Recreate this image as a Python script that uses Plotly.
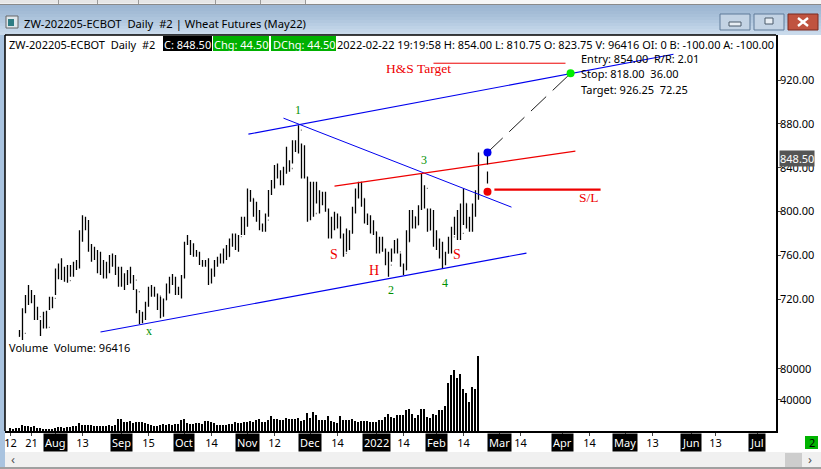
import plotly.graph_objects as go

W, H = 821, 469

# daily bars, index 0 is the first bar on the chart (first three sit below the visible price pane)
opens = [665, 668, 672, 686, 690, 688.7, 717.6, 716.7, 719.1, 710, 703.9, 697.8, 694.2, 694.2, 719.1, 720.6, 743.5, 742.9, 742, 737.4,
         736.8, 742, 751.1, 752, 781.5, 784.6, 787.6, 766.3, 764.8, 761.7, 746.5, 748, 752.6, 745, 755.6, 752.6, 743.5, 742, 734.3, 735,
         736.8, 737.4, 737.4, 726.7, 706.3, 703.9, 716.1, 728.2, 728.2, 724.6, 722.8, 705.4, 719.1, 732.8, 738, 738, 726.7, 728.2, 740.4, 770.9,
         772.4, 761.7, 761.1, 760.2, 752.6, 751.1, 752, 737.4, 742, 752.6, 753.2, 754.1, 764.8, 758.7, 772.4, 775.4, 769.3, 777, 789.1, 789.1,
         811.9, 811.9, 796.7, 793.7, 786.1, 786.1, 792.2, 818.1, 827.2, 833.2, 833.2, 827.2, 834.8, 837.8, 839.3, 862.2, 860.6, 874.3, 846.9, 831.7,
         795.2, 796.7, 798.2, 810.4, 811.9, 813.5, 801.3, 786.1, 792.1, 793.7, 795.2, 778.5, 761.7, 775.4, 780, 801.3, 819.5, 819.5, 811.9, 790.6,
         793.7, 787.6, 781.5, 763.2, 775.4, 764.8, 761.7, 751, 763.2, 764.8, 763.2, 751, 746.5, 772.4, 798.2, 795.2, 787.6, 804.3, 822.6, 821.1,
         783, 793.7, 769.3, 767.8, 761.7, 758.7, 761.7, 772.4, 776.9, 787.6, 786.1, 780, 807.4, 786.1, 786.1, 804.3, 823.75]
highs = [670, 673, 678, 691.7, 711.5, 723.7, 732.8, 728.2, 723.7, 713, 700.9, 708.5, 709.4, 722.2, 722.2, 748, 752.6, 757.2, 749.6, 751.1,
         751.1, 754.1, 755.6, 783, 796.7, 795.2, 792.2, 770.3, 767.8, 764.8, 763.3, 755.6, 754.1, 760.2, 761.7, 760.2, 749.6, 749.6, 743.5, 746.5,
         749.6, 742, 728.9, 710, 708.5, 717.6, 731.3, 732.8, 731.3, 725.2, 722.2, 720.6, 734.3, 740.4, 742.9, 740.4, 731.3, 742, 772.4, 778.5,
         773.9, 770.9, 764.8, 763.3, 755.6, 755.6, 757.2, 748, 755.6, 758.7, 761.7, 766.3, 769.3, 775.4, 780, 780, 778.5, 795.2, 795.2, 821.1,
         819.6, 811.9, 808.9, 801.3, 789.1, 798.3, 819.6, 828.7, 842.4, 843.9, 837.8, 840.8, 859.1, 846.9, 865.2, 865.2, 878.9, 862.2, 860.6, 831.7,
         827.2, 827.2, 827.2, 819.5, 818, 818, 802.8, 795.2, 799.8, 798.2, 795.2, 780, 784.5, 783, 804.3, 821.1, 827.2, 827.2, 811.9, 798.2,
         796.7, 792.1, 781.5, 776.9, 776.9, 766.3, 763.2, 766.3, 773.9, 775.4, 761.7, 752.6, 783, 801.3, 801.3, 795.2, 805.8, 834.8, 824.1, 802.8,
         802.8, 801.3, 783, 775.4, 772.4, 763.2, 776.9, 786.1, 795.2, 801.3, 807.4, 821.1, 807.4, 795.2, 807.4, 819.5, 854]
lows = [660, 664, 668, 685.6, 682.6, 707, 714.6, 716.1, 700.9, 700.9, 686.2, 693.2, 693.2, 710, 711.5, 723.7, 738, 737.4, 735.9, 735,
        740.4, 740.4, 746.5, 748, 772.4, 783, 763.3, 754.1, 755.6, 743.5, 742, 738.9, 738.9, 743.5, 749.6, 742, 731.3, 731.3, 728.2, 732.8,
        734.3, 728.2, 707, 697.2, 697.8, 700.9, 713, 722.2, 722.2, 710, 702.4, 703.9, 719.1, 725.2, 732.8, 723.7, 723.7, 720.6, 738.9, 769.3,
        760.2, 758.7, 758.7, 751.1, 749.6, 749.6, 732.8, 734.3, 740.4, 749.6, 752.6, 752.6, 755.6, 758.7, 767.8, 764.8, 763.3, 778.5, 778.5, 786.1,
        808.9, 795.2, 790.7, 783, 781.5, 781.5, 795.2, 815, 821.1, 830.2, 824.1, 824.1, 834.8, 836.3, 843.9, 854.5, 853, 830.2, 830.2, 790.6,
        792.1, 795.2, 807.4, 798.2, 805.8, 799.8, 775.4, 775.4, 783, 784.5, 775.4, 758.7, 763.2, 764.8, 780, 798.2, 811.9, 804.3, 789.1, 787.6,
        780, 778.5, 761.7, 761.7, 763.2, 751, 740.4, 754.1, 761.7, 761.7, 749.5, 741.9, 746.5, 772.4, 784.5, 784.5, 787.6, 801.3, 802.8, 781.5,
        783, 767.8, 764.8, 757.1, 748, 751, 761.7, 761.7, 778.5, 773.9, 773.9, 787.6, 784.5, 781.5, 781.5, 795.2, 810.75]
closes = [668, 672, 676, 690.2, 688.7, 717.6, 716.7, 719.1, 710, 703.9, 697.8, 694.2, 694.2, 719.1, 720.6, 743.5, 742.9, 742, 737.4, 736.8,
          742, 751.1, 752, 781.5, 784.6, 787.6, 766.3, 764.8, 761.7, 746.5, 748, 752.6, 745, 755.6, 752.6, 743.5, 742, 734.3, 735, 736.8,
          737.4, 737.4, 726.7, 706.3, 703.9, 716.1, 728.2, 728.2, 724.6, 722.8, 705.4, 719.1, 732.8, 738, 738, 726.7, 728.2, 740.4, 770.9, 772.4,
          761.7, 761.1, 760.2, 752.6, 751.1, 752, 737.4, 742, 752.6, 753.2, 754.1, 764.8, 758.7, 772.4, 775.4, 769.3, 777, 789.1, 789.1, 811.9,
          811.9, 796.7, 793.7, 786.1, 786.1, 792.2, 818.1, 827.2, 833.2, 833.2, 827.2, 834.8, 837.8, 839.3, 862.2, 860.6, 874.3, 846.9, 831.7, 795.2,
          796.7, 798.2, 810.4, 811.9, 813.5, 801.3, 786.1, 792.1, 793.7, 795.2, 778.5, 761.7, 775.4, 780, 801.3, 819.5, 819.5, 811.9, 790.6, 793.7,
          787.6, 781.5, 763.2, 775.4, 764.8, 761.7, 751, 763.2, 764.8, 763.2, 751, 746.5, 772.4, 798.2, 795.2, 787.6, 804.3, 822.6, 821.1, 783,
          793.7, 769.3, 767.8, 761.7, 758.7, 761.7, 772.4, 776.9, 787.6, 786.1, 780, 807.4, 786.1, 786.1, 804.3, 804.3, 848.5]
volumes = [4250, 3000, 4250, 4250, 8100, 5950, 5950, 5100, 5950, 4250, 3400, 3000, 3000, 3000, 3000, 4250, 5500, 5500, 4250, 5500,
           5500, 6800, 6800, 10600, 7650, 7200, 7200, 7200, 5950, 6800, 6400, 5950, 5950, 7200, 5950, 7200, 15700, 14900, 11050, 11050,
           12300, 10200, 11500, 11900, 11900, 10200, 8500, 7650, 6400, 5950, 7200, 9350, 7650, 8500, 7650, 9350, 9350, 13600, 15700, 10600,
           8500, 8900, 10600, 10600, 8500, 13200, 12300, 11050, 10200, 7650, 7650, 8100, 7650, 9350, 9350, 11900, 10200, 10200, 11050, 11900,
           12750, 11500, 13600, 15700, 11500, 11500, 14450, 19550, 14900, 15700, 14000, 14450, 17400, 14900, 14900, 14900, 17000, 12750, 14450, 23800,
           17000, 24650, 20800, 13600, 13600, 14450, 19550, 12300, 11900, 9800, 19550, 14450, 14000, 14000, 15300, 12300, 11050, 13200, 13200, 13200,
           11050, 11050, 11050, 14450, 13600, 18700, 22500, 18700, 16150, 21250, 20400, 21250, 27600, 28500, 22500, 17000, 21250, 28900, 28900, 18300,
           17400, 22100, 21250, 27600, 27600, 32700, 62050, 72250, 78600, 68400, 73500, 54000, 49300, 37800, 56950, 54400, 96416]
bar_index = list(range(len(closes)))

# x axis labels, by bar position
plain_ticks = [0, 7, 24, 46, 67, 88, 109, 131, 151, 170, 193, 214, 235]
plain_labels = ["12", "21", "13", "15", "14", "12", "14", "14", "14", "14", "14", "13", "13"]
month_ticks = [15, 37, 58, 79, 100, 122, 142, 163, 184, 205, 227, 249]
month_labels = ["Aug", "Sep", "Oct", "Nov", "Dec", "2022", "Feb", "Mar", "Apr", "May", "Jun", "Jul"]

price_ticks = [720, 760, 800, 840, 880, 920]
volume_ticks = [40000, 80000]

# drawn lines: (bar position, price)
channel_top_x, channel_top_y = [79.3, 221], [870.7, 943.7]
channel_low_x, channel_low_y = [30, 172], [689.9, 762]
falling_x, falling_y = [91, 167], [885.3, 804]
neck_x, neck_y = [108, 188.3], [823.2, 855.2]
target_x, target_y = [141, 185], [935.5, 935.5]
stop_x, stop_y = [161.3, 196.7], [820, 820]
entry_x, entry_price = 159, 854
stop_price = 818
target_dot_x, target_price = 186.7, 926.25


def px(x):
    return x / W


def py(y):
    return 1 - y / H


def rect(x0, y0, x1, y1, color, line=None):
    return dict(type="rect", xref="paper", yref="paper", layer="below",
                x0=px(x0), x1=px(x1), y0=py(y0), y1=py(y1), fillcolor=color,
                line=dict(color=line or color, width=1 if line else 0))


def seg(x0, y0, x1, y1, color, width=1.0):
    return dict(type="line", xref="paper", yref="paper", x0=px(x0), x1=px(x1), y0=py(y0), y1=py(y1),
                line=dict(color=color, width=width))


fig = go.Figure()

fig.add_trace(go.Ohlc(x=bar_index, open=opens, high=highs, low=lows, close=closes,
                      increasing_line_color="black", decreasing_line_color="black",
                      line_width=1.3, tickwidth=0.2, yaxis="y", hoverinfo="skip"))
fig.add_trace(go.Bar(x=bar_index, y=volumes, marker_color="black", marker_line_width=0,
                     width=0.6, yaxis="y2", hoverinfo="skip"))


def add_line(x, y, color, width=1.1, dash="solid"):
    fig.add_trace(go.Scatter(x=x, y=y, mode="lines", line=dict(color=color, width=width, dash=dash),
                             yaxis="y", hoverinfo="skip"))


add_line(channel_top_x, channel_top_y, "#0000ee")
add_line(channel_low_x, channel_low_y, "#0000ee")
add_line(falling_x, falling_y, "#0000ee", 1)
add_line(neck_x, neck_y, "#ee0000")
add_line(target_x, target_y, "#ee0000", 1)
add_line(stop_x, stop_y, "#ee0000", 2.4)
add_line([entry_x, target_dot_x], [entry_price, target_price], "black", 0.9, "21px,9px")
add_line([entry_x, entry_x], [entry_price, stop_price], "black", 1.2, "12px,7px")

fig.add_trace(go.Scatter(x=[entry_x, entry_x, target_dot_x], y=[entry_price, stop_price, target_price],
                         mode="markers", marker=dict(size=8, color=["#0000ee", "#ee0000", "#00ee00"]),
                         yaxis="y", hoverinfo="skip"))

shapes = [
    rect(0, 0, W, H, "#f0f0f0"),
    rect(0, 0, 305, 3, "#e6e6e6"),
    rect(305, 0, W, 4, "#f6f6f6"),
    rect(0, 4, W, 5, "#8a8a8a"),
]
for x in [58, 97, 138, 215, 260, 305]:
    shapes.append(rect(x, 0, x + 1, 4, "#9a9a9a"))
# caption gradient, top to bottom
caption_colors = ["#9db6d2", "#a0b9d4", "#a4bcd6", "#a8c0d9", "#adc4dc", "#b2c8df", "#b8cde3", "#bed2e6", "#c4d6e9", "#c9daeb"]
for n, c in enumerate(caption_colors):
    shapes.append(rect(0, 5 + n * 3, W, 8 + n * 3, c))
shapes += [
    rect(0, 35, 5, 467, "#a9c3df"),
    rect(5, 35, 776, 431, "white"),
    rect(776, 35, 821, 452, "white"),
    rect(5, 431, 776, 452, "white"),
    rect(805, 436, 818, 449, "#00b400"),
    rect(785, 453, 802, 467, "#cdcdcd"),
    rect(0, 467, W, H, "#a0a0a0"),
    # window icon and caption buttons
    rect(6, 16, 18, 28, "#dfe7ec", "#666666"),
    rect(8, 19, 14, 26, "#2f7d84"),
    rect(720, 14, 750, 30, "#c3d3e4", "#5f7b99"),
    rect(754, 14, 784, 30, "#c3d3e4", "#5f7b99"),
    rect(788, 14, 818, 30, "#c0533f", "#7a2a20"),
    rect(729, 22, 741, 26, "#e8eef4", "#4a5a6a"),
    rect(765, 18, 773, 24, "#e8eef4", "#4a5a6a"),
    # header strip
    rect(163, 36, 212, 51, "black"),
    rect(213, 36, 269, 51, "#00b000"),
    rect(271, 36, 336, 51, "#00b000"),
    # pane borders, X of the close button
    seg(5, 35, 776, 35, "black", 1.5),
    seg(5, 35, 5, 431, "black", 1.5),
    seg(798, 18, 808, 26, "white", 2.4),
    seg(798, 26, 808, 18, "white", 2.4),
]

UI = "Noto Sans"
SERIF = "Liberation Serif"
ann = []


def label(x, y, text, color="black", size=11, font=UI, bg=None, anchor="left"):
    # x, y in window pixels
    ann.append(dict(x=px(x), y=py(y), xref="paper", yref="paper", text=text, showarrow=False, xanchor=anchor,
                    yanchor="middle", align=anchor, borderpad=0,
                    font=dict(family=font, size=size, color=color), bgcolor=bg))


def mark(x, y, text, color, size=12):
    # text tied to a chart position
    ann.append(dict(x=x, y=y, xref="x", yref="y", text=text, showarrow=False,
                    font=dict(family=SERIF, size=size, color=color)))


label(23, 23, "ZW-202205-ECBOT  Daily  #2 | Wheat Futures (May22)", size=11.2)
label(8, 44, "ZW-202205-ECBOT  Daily  #2")
label(187.5, 44, "C: 848.50", "white", anchor="center")
label(241, 44, "Chg: 44.50", "white", anchor="center")
label(303.5, 44, "DChg: 44.50", "white", anchor="center")
label(336, 44, "2022-02-22 19:19:58 H: 854.00 L: 810.75 O: 823.75 V: 96416 OI: 0 B: -100.00 A: -100.00")
label(8, 347, "Volume  Volume: 96416")
label(580, 59, "Entry: 854.00  R/R: 2.01")
label(580, 74, "Stop: 818.00  36.00")
label(580, 89, "Target: 926.25  72.25")
label(812, 442, "2", anchor="center")
label(13, 459, "‹", "#555555", 13, anchor="center")
label(810, 459, "›", "#555555", 13, anchor="center")
label(797, 158, "848.50", "white", bg="#555555", anchor="center")

mark(136, 931, "H&S Target", "#ee0000", 13.5)
mark(192.7, 813, "S/L", "#ee0000", 13.5)
mark(107.7, 761, "S", "#ee0000", 14)
mark(121.3, 746.5, "H", "#ee0000", 14)
mark(148.7, 760.5, "S", "#ee0000", 14)
mark(95.7, 893, "1", "#009000")
mark(137.7, 847, "3", "#009000")
mark(126.7, 728, "2", "#009000")
mark(144.7, 735, "4", "#009000")
mark(46.3, 691, "x", "#009000")

for t, m in zip(month_ticks, month_labels):
    ann.append(dict(x=t, y=py(442), xref="x", yref="paper", text=m, showarrow=False, yanchor="middle", borderpad=1,
                    font=dict(family=UI, size=11, color="white"), bgcolor="black"))

all_ticks = plain_ticks + month_ticks
all_text = plain_labels + [""] * len(month_ticks)

fig.update_layout(
    width=W, height=H, margin=dict(l=0, r=0, t=0, b=0), paper_bgcolor="white", plot_bgcolor="rgba(0,0,0,0)",
    showlegend=False, bargap=0, shapes=shapes, annotations=ann,
    font=dict(family=UI, size=11, color="black"),
    xaxis=dict(domain=[px(5), px(776)], range=[-1.83, 255.17], anchor="y2", tickmode="array",
               tickvals=all_ticks, ticktext=all_text, ticks="outside", ticklen=3, tickwidth=1, tickangle=0,
               ticklabelstandoff=-2, showgrid=False, zeroline=False, showline=True, linecolor="black", linewidth=1.5,
               rangeslider=dict(visible=False)),
    yaxis=dict(domain=[py(340), py(35)], range=[682.6, 961.3], side="right", anchor="x", tickmode="array",
               tickvals=price_ticks, ticktext=["%.2f" % v for v in price_ticks], ticks="outside", ticklen=3,
               ticklabelstandoff=-3, showgrid=False, zeroline=False, showline=True, linecolor="black", linewidth=1.5),
    yaxis2=dict(domain=[py(431), py(340)], range=[0, 117400], side="right", anchor="x", tickmode="array",
                tickvals=volume_ticks, ticktext=[str(v) for v in volume_ticks], ticks="outside", ticklen=3,
                ticklabelstandoff=-3, showgrid=False, zeroline=False, showline=True, linecolor="black", linewidth=1.5),
)

fig.write_html("out.html", config={"displayModeBar": False},
               post_script="document.body.style.margin='0';document.body.style.overflow='hidden';")
